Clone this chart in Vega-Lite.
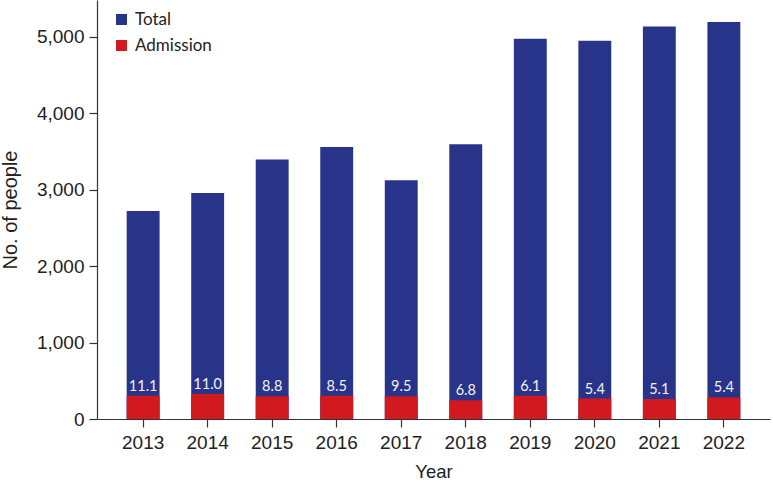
{
  "$schema": "https://vega.github.io/schema/vega-lite/v6.json",
  "autosize": {"type": "none"},
  "padding": {"left": 97, "top": 0, "right": 3, "bottom": 64},
  "width": 673,
  "height": 419,
  "background": "white",
  "config": {
    "view": {"stroke": null},
    "axis": {"grid": false, "domainColor": "#333333", "tickColor": "#333333", "labelColor": "#222222", "titleColor": "#222222", "labelFont": "Liberation Sans", "titleFont": "Liberation Sans", "labelFontSize": 19, "titleFontSize": 19, "titleFontWeight": "normal", "tickSize": 8, "domainWidth": 1.2, "tickWidth": 1.2}
  },
  "data": {
    "values": [
      {"Year": "2013", "Total": 2722, "Admission": 303, "pct": 11.1},
      {"Year": "2014", "Total": 2958, "Admission": 326, "pct": 11.0},
      {"Year": "2015", "Total": 3396, "Admission": 298, "pct": 8.8},
      {"Year": "2016", "Total": 3560, "Admission": 303, "pct": 8.5},
      {"Year": "2017", "Total": 3125, "Admission": 298, "pct": 9.5},
      {"Year": "2018", "Total": 3596, "Admission": 246, "pct": 6.8},
      {"Year": "2019", "Total": 4976, "Admission": 304, "pct": 6.1},
      {"Year": "2020", "Total": 4950, "Admission": 268, "pct": 5.4},
      {"Year": "2021", "Total": 5138, "Admission": 262, "pct": 5.1},
      {"Year": "2022", "Total": 5195, "Admission": 282, "pct": 5.4}
    ]
  },
  "encoding": {
    "x": {
      "field": "Year", "type": "ordinal",
      "scale": {"paddingInner": 0.49, "paddingOuter": 0.46},
      "axis": {"labelAngle": 0, "title": "Year", "labelPadding": 6, "titlePadding": 10, "titleFontSize": 18.5}
    }
  },
  "layer": [
    {
      "transform": [{"fold": ["Total", "Admission"], "as": ["series", "value"]}],
      "mark": {"type": "bar"},
      "encoding": {
        "y": {
          "field": "value", "type": "quantitative", "stack": null,
          "scale": {"domain": [0, 5484], "nice": false},
          "axis": {"values": [0, 1000, 2000, 3000, 4000, 5000], "format": ",d", "title": "No. of people", "labelPadding": 5, "titlePadding": 16, "titleFontSize": 20}
        },
        "color": {
          "field": "series", "type": "nominal",
          "scale": {"domain": ["Total", "Admission"], "range": ["#28348a", "#d1191f"]},
          "legend": {
            "title": null, "orient": "none", "legendX": 16, "legendY": 11,
            "symbolType": "square", "symbolSize": 120, "symbolStrokeWidth": 0,
            "labelFont": "Lato", "labelFontSize": 17, "labelColor": "#222222",
            "rowPadding": 8, "labelOffset": 5
          }
        }
      }
    },
    {
      "mark": {"type": "text", "baseline": "bottom", "dy": -2, "color": "#f2f2f8", "font": "Lato", "fontSize": 14.5},
      "encoding": {
        "y": {"field": "Admission", "type": "quantitative"},
        "text": {"field": "pct", "type": "quantitative", "format": ".1f"}
      }
    }
  ]
}
